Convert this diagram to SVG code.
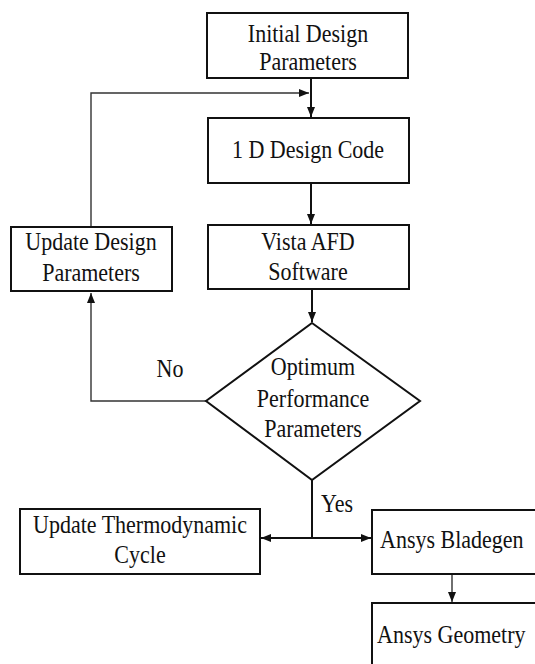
<svg xmlns="http://www.w3.org/2000/svg" width="535" height="664" viewBox="0 0 535 664">
<style>
.box{fill:#fff;stroke:#111;stroke-width:2}
.t{font-family:"Liberation Serif","Times New Roman",serif;font-size:22px;fill:#111;text-anchor:middle}
.s{text-anchor:start}
.c{fill:none;stroke:#111;stroke-width:2}
.c2{fill:none;stroke:#333;stroke-width:1.4}
</style>
<defs>
<marker id="ah" markerWidth="10" markerHeight="8" refX="10" refY="4" orient="auto" markerUnits="userSpaceOnUse">
<path d="M0,0 L10,4 L0,8 Z" fill="#111"/>
</marker>
</defs>
<rect width="535" height="664" fill="#fff"/>
<g id="connectors">
<line class="c" x1="311" y1="78" x2="311" y2="117" marker-end="url(#ah)"/>
<polyline class="c2" points="91,227 91,93 309,93" marker-end="url(#ah)"/>
<line class="c" x1="311" y1="183" x2="311" y2="224" marker-end="url(#ah)"/>
<line class="c" x1="312" y1="289" x2="312" y2="322" marker-end="url(#ah)"/>
<polyline class="c2" points="206,401 91,401 91,293" marker-end="url(#ah)"/>
<line class="c" x1="312" y1="480" x2="312" y2="538"/>
<line class="c" x1="312" y1="538" x2="261" y2="538" marker-end="url(#ah)"/>
<line class="c" x1="312" y1="538" x2="371" y2="538" marker-end="url(#ah)"/>
<line class="c2" x1="452" y1="574" x2="452" y2="602" marker-end="url(#ah)"/>
<text class="t" transform="translate(170,377) scale(1,1.13)">No</text>
<text class="t" transform="translate(337,512) scale(1,1.13)">Yes</text>
</g>
<g id="initial">
<rect class="box" x="207" y="13" width="201" height="65"/>
<text class="t" transform="translate(308,42) scale(1,1.13)">Initial Design</text>
<text class="t" transform="translate(308,70) scale(1,1.13)">Parameters</text>
</g>
<g id="code1d">
<rect class="box" x="208" y="118" width="201" height="65"/>
<text class="t" transform="translate(308,158) scale(1,1.13)">1 D Design Code</text>
</g>
<g id="vista">
<rect class="box" x="208" y="225" width="201" height="64"/>
<text class="t" transform="translate(308,250) scale(1,1.13)">Vista AFD</text>
<text class="t" transform="translate(308,280) scale(1,1.13)">Software</text>
</g>
<g id="update">
<rect class="box" x="11" y="227" width="161" height="64"/>
<text class="t" transform="translate(91,250) scale(1,1.13)">Update Design</text>
<text class="t" transform="translate(91,281) scale(1,1.13)">Parameters</text>
</g>
<g id="decision">
<polygon class="box" points="312,323 420,401 312,480 206,401"/>
<text class="t" transform="translate(313,375) scale(1,1.13)">Optimum</text>
<text class="t" transform="translate(313,407) scale(1,1.13)">Performance</text>
<text class="t" transform="translate(313,437) scale(1,1.13)">Parameters</text>
</g>
<g id="thermo">
<rect class="box" x="20" y="509" width="240" height="65"/>
<text class="t" transform="translate(140,533) scale(1,1.13)">Update Thermodynamic</text>
<text class="t" transform="translate(140,563) scale(1,1.13)">Cycle</text>
</g>
<g id="bladegen">
<rect class="box" x="372" y="510" width="200" height="64"/>
<text class="t s" transform="translate(380,548) scale(1,1.13)">Ansys Bladegen</text>
</g>
<g id="geometry">
<rect class="box" x="372" y="603" width="200" height="80"/>
<text class="t s" transform="translate(377,643) scale(1,1.13)">Ansys Geometry</text>
</g>
</svg>
